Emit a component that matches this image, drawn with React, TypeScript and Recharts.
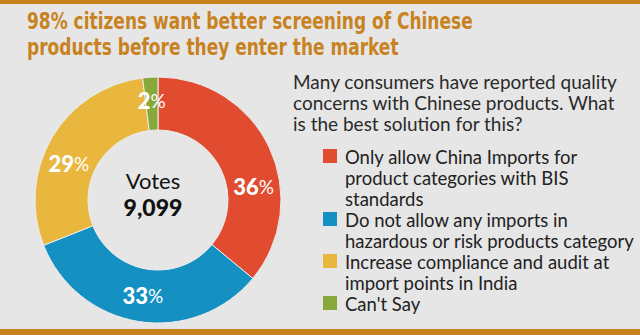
import React from "react";
import { PieChart, Pie, Cell, Legend } from "recharts";

// poll answers, in percent
const options = [
  "Only allow China Imports for\nproduct categories with BIS\nstandards",
  "Do not allow any imports in\nhazardous or risk products category",
  "Increase compliance and audit at\nimport points in India",
  "Can't Say",
];
const shares = [36, 33, 29, 2];
const totalVotes = 9099;

const titleLines = [
  "98% citizens want better screening of Chinese",
  "products before they enter the market",
];
const questionLines = [
  "Many consumers have reported quality",
  "concerns with Chinese products. What",
  "is the best solution for this?",
];

const colors = ["#e14b2f", "#1490c2", "#e9b63e", "#87a93c"];
// nudge a few labels along the ring so they sit where they read best
const labelShift = [-17, 0, 8, 0];

const data = options.map((name, i) => ({ name, value: shares[i] }));

const RADIAN = Math.PI / 180;
const bodyFont = "Lato, 'Open Sans', sans-serif";
const CX = 153;
const CY = 195;

const renderPct = (props: any) => {
  const { cx, cy, midAngle, innerRadius, outerRadius, value, index } = props;
  const r = (innerRadius + outerRadius) / 2 + (index === 3 ? 4 : 0);
  const a = (midAngle + labelShift[index]) * RADIAN;
  const x = cx + r * Math.cos(a);
  const y = cy - r * Math.sin(a);
  return (
    <text
      x={x}
      y={y}
      fill="#fff"
      textAnchor="middle"
      dominantBaseline="central"
      fontFamily={bodyFont}
    >
      <tspan fontWeight={900} fontSize={22}>
        {value}
      </tspan>
      <tspan fontWeight={400} fontSize={19}>
        %
      </tspan>
    </text>
  );
};

const renderLegend = () => (
  <div style={{ fontFamily: bodyFont, fontSize: 18.5, lineHeight: "21px", color: "#222" }}>
    {options.map((name, i) => (
      <div key={name} style={{ display: "flex", alignItems: "flex-start" }}>
        <span
          style={{
            width: 14,
            height: 14,
            marginTop: 2,
            marginRight: 8,
            background: colors[i],
            flex: "none",
          }}
        />
        <span style={{ whiteSpace: "pre-line" }}>{name}</span>
      </div>
    ))}
  </div>
);

export default function App() {
  return (
    <div
      style={{
        position: "absolute",
        left: 0,
        top: 0,
        width: 640,
        height: 335,
        background: "#e6e6e6",
        overflow: "hidden",
      }}
    >
      <div style={{ position: "absolute", left: 0, top: 0, width: 640, height: 4, background: "#c8821e" }} />
      <div style={{ position: "absolute", left: 0, top: 329, width: 640, height: 6, background: "#c8821e" }} />
      <div
        style={{
          position: "absolute",
          left: 27,
          top: 8,
          fontFamily: "'DejaVu Sans Condensed', 'DejaVu Sans', sans-serif",
          fontWeight: 700,
          fontSize: 22.5,
          lineHeight: "26px",
          color: "#c8821f",
          whiteSpace: "nowrap",
          transform: "scaleX(0.84)",
          transformOrigin: "0 0",
        }}
      >
        {titleLines.map((t) => (
          <div key={t}>{t}</div>
        ))}
      </div>
      <div
        style={{
          position: "absolute",
          left: 293,
          top: 71,
          fontFamily: bodyFont,
          fontSize: 19,
          lineHeight: "21px",
          color: "#2a2a2a",
          whiteSpace: "nowrap",
        }}
      >
        {questionLines.map((t) => (
          <div key={t}>{t}</div>
        ))}
      </div>
      <PieChart width={640} height={335} style={{ position: "absolute", left: 0, top: 0 }}>
        <Pie
          data={data}
          dataKey="value"
          nameKey="name"
          cx={CX}
          cy={CY}
          innerRadius={70}
          outerRadius={123}
          startAngle={90}
          endAngle={-270}
          stroke="#ececec"
          strokeWidth={1}
          label={renderPct}
          labelLine={false}
          isAnimationActive={false}
        >
          {data.map((d, i) => (
            <Cell key={d.name} fill={colors[i]} />
          ))}
        </Pie>
        <Legend
          content={renderLegend}
          layout="vertical"
          wrapperStyle={{ left: 323, top: 147, width: 315 }}
        />
      </PieChart>
      {/* vote count in the hole of the donut */}
      <div
        style={{
          position: "absolute",
          left: CX - 60,
          top: CY - 28,
          width: 120,
          textAlign: "center",
          fontFamily: bodyFont,
          color: "#111",
          lineHeight: "27px",
        }}
      >
        <div style={{ fontSize: 22 }}>Votes</div>
        <div style={{ fontSize: 23, fontWeight: 900 }}>{totalVotes.toLocaleString("en-US")}</div>
      </div>
    </div>
  );
}
